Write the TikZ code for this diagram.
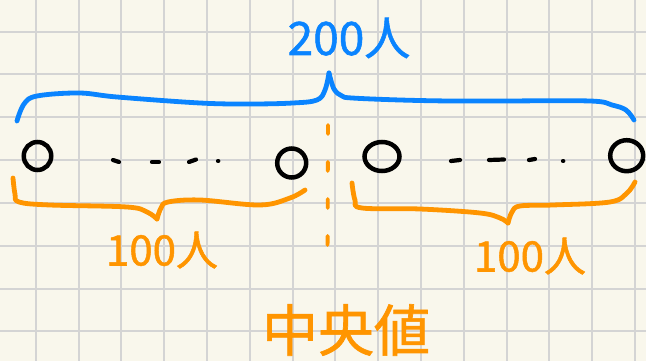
\documentclass[tikz,border=0pt]{standalone}
\usepackage{fontspec}
\newfontfamily\jpfont[FakeBold=1.2]{Noto Sans CJK JP}
\usetikzlibrary{shapes.geometric}
\definecolor{paper}{RGB}{249,247,236}
\definecolor{gridc}{RGB}{212,212,212}
\definecolor{penblue}{RGB}{10,132,255}
\definecolor{penorange}{RGB}{255,149,0}
\tikzset{
  bluepen/.style={draw=penblue,line width=4.8pt,line cap=round,line join=round},
  orangepen/.style={draw=penorange,line width=4.8pt,line cap=round,line join=round},
  blackpen/.style={draw=black,line width=4.2pt,line cap=round},
  loopnode/.style={ellipse,draw=black,line width=4.5pt,inner sep=0pt},
  handtext/.style={font=\jpfont,inner sep=0pt},
}
\begin{document}
\begin{tikzpicture}[x=1pt,y=-1pt]
\useasboundingbox (0,0) rectangle (646,361);
\fill[paper] (0,0) rectangle (646,361);
\foreach \k in {0,...,14} \draw[gridc,line width=2pt] ({35.7+42.8*\k},0) -- ({35.7+42.8*\k},361);
\foreach \k in {0,...,7} \draw[gridc,line width=2pt] (0,{31.7+42.8*\k}) -- (646,{31.7+42.8*\k});

% top brace
\coordinate (btip) at (329,73);
\draw[bluepen] plot[smooth,tension=0.6] coordinates {(17,121) (24,104) (37,96) (79,93) (117,97) (200,103) (250,104) (293,103) (317,100) (325,90) (btip)};
\draw[bluepen] plot[smooth,tension=0.6] coordinates {(btip) (334,89) (342,96) (352,98) (400,100) (450,101) (500,101) (590,101) (612,105) (626,110) (634,120)};
\node[handtext,text=penblue,font=\jpfont\fontsize{46}{46}\selectfont] (top) at (349,38) {200人};

% circles
\node[loopnode,minimum width=27.5pt,minimum height=28pt] (c1) at (37.5,156) {};
\node[loopnode,minimum width=29pt,minimum height=29pt] (c2) at (291.7,163) {};
\node[loopnode,minimum width=35pt,minimum height=29pt] (c3) at (382,156.5) {};
\node[loopnode,minimum width=33pt,minimum height=31pt] (c4) at (626.7,155.7) {};

% dots
\draw[blackpen] (113,160) -- (119,162);
\draw[blackpen] (152,162) -- (159,162);
\draw[blackpen] (189,162) -- (196,159.5);
\draw[blackpen] (218,161) -- (218.3,161);
\draw[blackpen] (451,161) -- (460,160);
\draw[blackpen] (489,160) -- (504,159.5);
\draw[blackpen] (529,160) -- (535,159);
\draw[blackpen] (563,161) -- (563.3,161);

% median dashed line
\coordinate (mtop) at (328,125);
\coordinate (mbot) at (327.5,272);
\draw[penorange,line width=3.8pt,line cap=round,dash pattern=on 9pt off 28pt] (mtop) -- (mbot);

% lower braces
\coordinate (ltip) at (157,219);
\draw[orangepen] plot[smooth,tension=0.6] coordinates {(13,178) (15,194) (19,202) (50,205) (127,207) (147,212) (ltip)};
\draw[orangepen] plot[smooth,tension=0.6] coordinates {(ltip) (161,208) (168,202) (200,200) (260,205) (290,198) (305,190)};
\coordinate (rtip) at (508,223);
\draw[orangepen] plot[smooth,tension=0.6] coordinates {(352,183) (355,200) (362,208) (420,209) (480,213) (500,218) (rtip)};
\draw[orangepen] plot[smooth,tension=0.6] coordinates {(rtip) (512,212) (520,206) (553,205) (610,202) (627,193) (635,182)};

\node[handtext,text=penorange,font=\jpfont\fontsize{42}{42}\selectfont] (lhalf) at (162,250) {100人};
\node[handtext,text=penorange,font=\jpfont\fontsize{42}{42}\selectfont] (rhalf) at (530,256) {100人};
\node[handtext,text=penorange,font=\jpfont\fontsize{56}{56}\selectfont] (median) at (346,330) {中央値};
\end{tikzpicture}
\end{document}
